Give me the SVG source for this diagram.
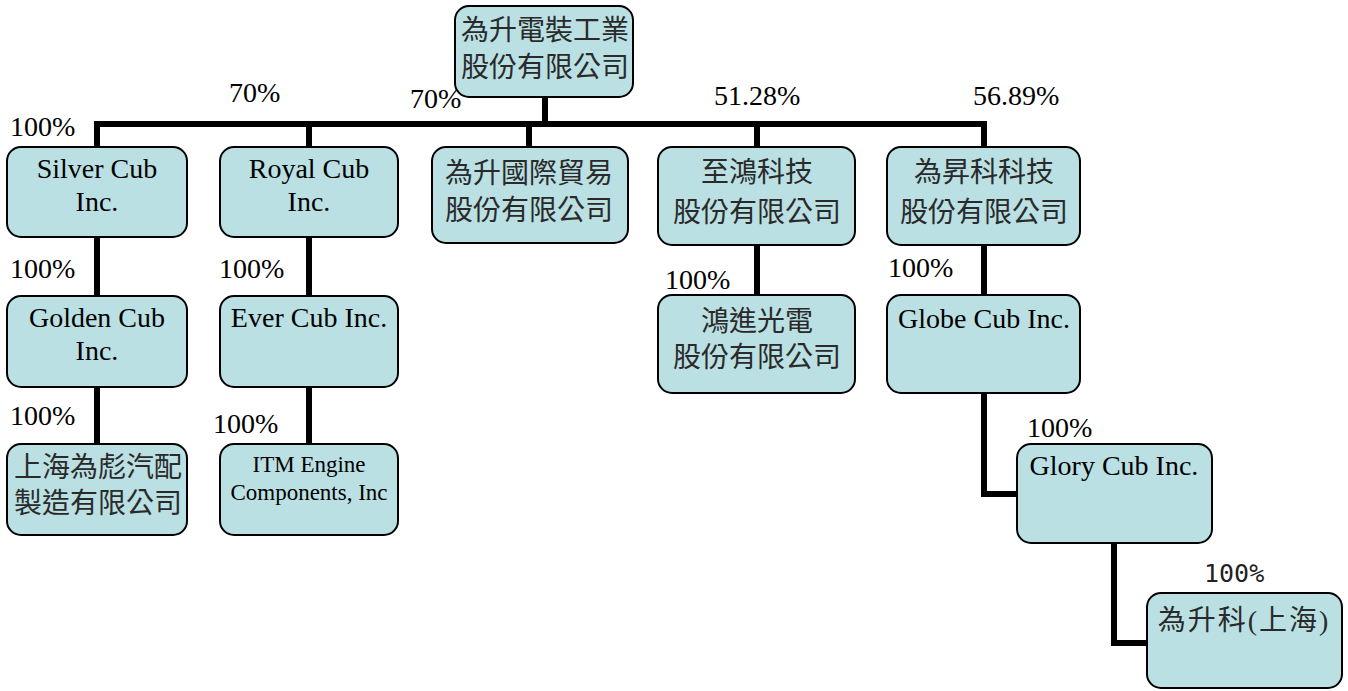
<svg xmlns="http://www.w3.org/2000/svg" width="1348" height="691" viewBox="0 0 1348 691">
<style>
.box{fill:#bae0e3;stroke:#000;stroke-width:2}
.lat{font-family:"Liberation Serif","Times New Roman",serif;font-size:28px;fill:#000;text-anchor:middle}
.itm{font-family:"Liberation Serif","Times New Roman",serif;font-size:23px;fill:#000;text-anchor:middle}
.cjk{font-family:"Liberation Serif","Noto Sans CJK TC",serif;font-size:28px;fill:#2a2a2a;text-anchor:middle}
.pct{font-family:"Liberation Serif","Times New Roman",serif;font-size:28px;fill:#000}
.pctm{font-family:"DejaVu Sans Mono","Liberation Mono",monospace;font-size:25px;fill:#222}
.con{fill:none;stroke:#000;stroke-width:6;stroke-linejoin:miter;stroke-linecap:butt}
</style>
<rect width="1348" height="691" fill="#fff"/>
<g id="connectors">
<path class="con" d="M545,97V124"/>
<path class="con" d="M97,147V124H984V147"/>
<path class="con" d="M309,124V147"/>
<path class="con" d="M529,124V147"/>
<path class="con" d="M757,124V147"/>
<path class="con" d="M97,237V296"/>
<path class="con" d="M309,237V296"/>
<path class="con" d="M757,245V295"/>
<path class="con" d="M984,245V295"/>
<path class="con" d="M97,387V444"/>
<path class="con" d="M309,387V444"/>
<path class="con" d="M984,393V494H1017"/>
<path class="con" d="M1114,543V643H1147"/>
</g>
<g id="labels">
<text class="pct" x="10" y="136">100%</text>
<text class="pct" x="229" y="102">70%</text>
<text class="pct" x="410" y="108">70%</text>
<text class="pct" x="714" y="105">51.28%</text>
<text class="pct" x="973" y="105">56.89%</text>
<text class="pct" x="10" y="278">100%</text>
<text class="pct" x="219" y="278">100%</text>
<text class="pct" x="10" y="425">100%</text>
<text class="pct" x="213" y="433">100%</text>
<text class="pct" x="665" y="289">100%</text>
<text class="pct" x="888" y="277">100%</text>
<text class="pct" x="1027" y="437">100%</text>
<text class="pctm" x="1204" y="582">100%</text>
</g>
<g id="n-root">
<rect class="box" x="455" y="6" width="178" height="91" rx="14"/>
<text class="cjk" x="545" y="40">為升電裝工業</text>
<text class="cjk" x="545" y="77">股份有限公司</text>
</g>
<g id="n-silver">
<rect class="box" x="7" y="147" width="180" height="90" rx="14"/>
<text class="lat" x="97" y="178">Silver Cub</text>
<text class="lat" x="97" y="211">Inc.</text>
</g>
<g id="n-royal">
<rect class="box" x="220" y="147" width="178" height="90" rx="14"/>
<text class="lat" x="309" y="178">Royal Cub</text>
<text class="lat" x="309" y="211">Inc.</text>
</g>
<g id="n-trade">
<rect class="box" x="432" y="147" width="196" height="96" rx="14"/>
<text class="cjk" x="529" y="183">為升國際貿易</text>
<text class="cjk" x="529" y="220">股份有限公司</text>
</g>
<g id="n-zhihong">
<rect class="box" x="658" y="147" width="197" height="98" rx="14"/>
<text class="cjk" x="757" y="182">至鴻科技</text>
<text class="cjk" x="757" y="222">股份有限公司</text>
</g>
<g id="n-weisheng">
<rect class="box" x="887" y="147" width="193" height="98" rx="14"/>
<text class="cjk" x="984" y="182">為昇科科技</text>
<text class="cjk" x="984" y="222">股份有限公司</text>
</g>
<g id="n-golden">
<rect class="box" x="7" y="296" width="180" height="91" rx="14"/>
<text class="lat" x="97" y="327">Golden Cub</text>
<text class="lat" x="97" y="360">Inc.</text>
</g>
<g id="n-ever">
<rect class="box" x="220" y="296" width="178" height="91" rx="14"/>
<text class="lat" x="309" y="327">Ever Cub Inc.</text>
</g>
<g id="n-hongjin">
<rect class="box" x="658" y="295" width="197" height="98" rx="14"/>
<text class="cjk" x="757" y="331">鴻進光電</text>
<text class="cjk" x="757" y="367">股份有限公司</text>
</g>
<g id="n-globe">
<rect class="box" x="887" y="295" width="193" height="98" rx="14"/>
<text class="lat" x="984" y="328">Globe Cub Inc.</text>
</g>
<g id="n-shanghai">
<rect class="box" x="7" y="444" width="180" height="91" rx="14"/>
<text class="cjk" x="98" y="477">上海為彪汽配</text>
<text class="cjk" x="98" y="513">製造有限公司</text>
</g>
<g id="n-itm">
<rect class="box" x="220" y="444" width="178" height="91" rx="14"/>
<text class="itm" x="309" y="472">ITM Engine</text>
<text class="itm" x="309" y="500">Components, Inc</text>
</g>
<g id="n-glory">
<rect class="box" x="1017" y="444" width="195" height="99" rx="14"/>
<text class="lat" x="1114" y="475">Glory Cub Inc.</text>
</g>
<g id="n-wsk-sh">
<rect class="box" x="1147" y="593" width="195" height="95" rx="14"/>
<text class="cjk" x="1244" y="630" letter-spacing="2">為升科(上海)</text>
</g>
</svg>
